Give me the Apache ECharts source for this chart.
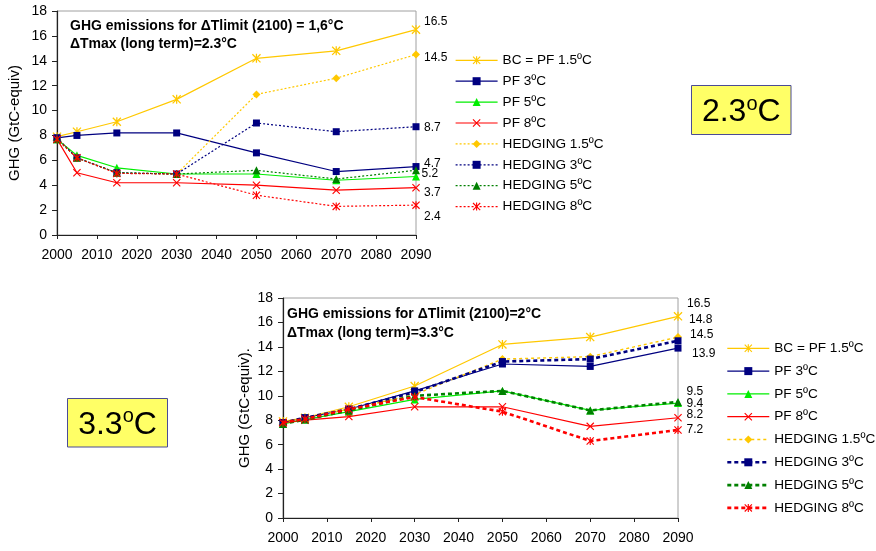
<!DOCTYPE html>
<html>
<head>
<meta charset="utf-8">
<script src="https://cdn.jsdelivr.net/npm/echarts@6/dist/echarts.min.js"></script>
<style>html,body{margin:0;padding:0;background:#fff;}#c{width:876px;height:551px;}</style>
</head>
<body>
<div id="c"></div>
<script>
// ---- data ----
const years = [2000, 2005, 2015, 2030, 2050, 2070, 2090];
const seriesNames = ['BC = PF 1.5ºC', 'PF 3ºC', 'PF 5ºC', 'PF 8ºC', 'HEDGING 1.5ºC', 'HEDGING 3ºC', 'HEDGING 5ºC', 'HEDGING 8ºC'];
// top panel (ΔTmax 2.3°C)
const topBC  = [7.9, 8.3, 9.1, 10.9, 14.2, 14.8, 16.5];
const topPF3 = [7.8, 8.0, 8.2, 8.2, 6.6, 5.1, 5.5];
const topPF5 = [7.7, 6.4, 5.4, 4.9, 4.9, 4.4, 4.7];
const topPF8 = [7.7, 5.0, 4.2, 4.2, 4.0, 3.6, 3.8];
const topH15 = [7.8, 6.2, 5.0, 4.9, 11.3, 12.6, 14.5];
const topH3  = [7.8, 6.2, 5.0, 4.9, 9.0, 8.3, 8.7];
const topH5  = [7.7, 6.2, 5.0, 4.9, 5.2, 4.5, 5.2];
const topH8  = [7.7, 6.2, 4.95, 4.9, 3.2, 2.3, 2.4];
// bottom panel (ΔTmax 3.3°C)
const botBC  = [7.9, 8.2, 9.1, 10.8, 14.2, 14.8, 16.5];
const botPF3 = [7.8, 8.2, 8.9, 10.4, 12.6, 12.4, 13.9];
const botPF5 = [7.7, 8.05, 8.7, 9.7, 10.4, 8.8, 9.4];
const botPF8 = [7.8, 8.0, 8.3, 9.1, 9.1, 7.5, 8.2];
const botH15 = [7.8, 8.2, 8.9, 10.1, 13.0, 13.2, 14.8];
const botH3  = [7.8, 8.2, 8.9, 10.3, 12.8, 13.0, 14.5];
const botH5  = [7.7, 8.05, 8.8, 10.0, 10.4, 8.8, 9.5];
const botH8  = [7.8, 8.1, 8.9, 9.9, 8.7, 6.3, 7.2];
// end-value labels
const topEndLabels = ['16.5', '14.5', '8.7', '4.7', '5.2', '3.7', '2.4'];
const botEndLabels = ['16.5', '14.8', '14.5', '13.9', '9.5', '9.4', '8.2', '7.2'];
const yTicks = [0, 18, 2];
const xTicks = [2000, 2090, 10];

// ---- styles ----
const FONT = 'Liberation Sans, Arial, sans-serif';
const XPATH = 'path://M0,1L1,0L10,9L9,10Z M9,0L10,1L1,10L0,9Z';
const STARPATH = 'path://M0,1L1,0L10,9L9,10Z M9,0L10,1L1,10L0,9Z M4.3,0L5.7,0L5.7,10L4.3,10Z';
const seriesStyle = [
  {color: '#FFC800', symbol: STARPATH, size: 9},
  {color: '#000080', symbol: 'rect', size: 7},
  {color: '#00EE00', symbol: 'triangle', size: 8},
  {color: '#FF0000', symbol: XPATH, size: 8},
  {color: '#FFC800', symbol: 'diamond', size: 8},
  {color: '#000080', symbol: 'rect', size: 7},
  {color: '#008000', symbol: 'triangle', size: 8},
  {color: '#FF0000', symbol: STARPATH, size: 8}
];
const topData = [topBC, topPF3, topPF5, topPF8, topH15, topH3, topH5, topH8];
const botData = [botBC, botPF3, botPF5, botPF8, botH15, botH3, botH5, botH8];

function lineStyleFor(i, panel) {
  if (i < 4) return {width: 1.2, type: 'solid', color: seriesStyle[i].color};
  if (panel === 0) return {width: 1.2, type: [2, 2], color: seriesStyle[i].color};
  if (i === 4) return {width: 1.4, type: [3, 3], color: seriesStyle[i].color};
  return {width: 2.6, type: [4, 3], color: seriesStyle[i].color};
}

const series = [];
[topData, botData].forEach((set, p) => {
  set.forEach((vals, i) => {
    series.push({
      type: 'line',
      name: seriesNames[i],
      xAxisIndex: p, yAxisIndex: p,
      data: years.map((y, k) => [y, vals[k]]),
      symbol: seriesStyle[i].symbol,
      symbolSize: seriesStyle[i].size,
      showAllSymbol: true,
      lineStyle: lineStyleFor(i, p),
      itemStyle: {color: seriesStyle[i].color},
      emphasis: {disabled: true},
      z: 2 + i,
      animation: false
    });
  });
});

function xAxis(gi) {
  return {
    type: 'value', gridIndex: gi, min: xTicks[0], max: xTicks[1], interval: xTicks[2],
    axisLine: {show: true, onZero: false, lineStyle: {color: '#222', width: 1.2}},
    axisTick: {show: true, inside: false, length: 4, lineStyle: {color: '#222'}},
    axisLabel: {color: '#000', fontSize: 14, fontFamily: FONT, margin: 13, formatter: v => String(v)},
    splitLine: {show: false}
  };
}
function yAxis(gi, name, gap) {
  return {
    type: 'value', gridIndex: gi, min: yTicks[0], max: yTicks[1], interval: yTicks[2],
    name: name, nameLocation: 'middle', nameGap: gap, nameRotate: 90,
    nameTextStyle: {color: '#000', fontSize: 15, fontFamily: FONT},
    axisLine: {show: true, onZero: false, lineStyle: {color: '#222', width: 1.2}},
    axisTick: {show: true, inside: false, length: 5, lineStyle: {color: '#222'}},
    axisLabel: {color: '#000', fontSize: 14, fontFamily: FONT, margin: 10},
    splitLine: {show: false}
  };
}

function legendData(panel) {
  return seriesNames.map((n, i) => {
    const ls = lineStyleFor(i, panel);
    return {name: n, lineStyle: {width: ls.width, type: ls.type, color: ls.color}};
  });
}

const textStyleBase = {fontFamily: FONT, fill: '#000'};
function labelTexts(list, xs, ys) {
  return list.map((t, i) => ({
    type: 'text', silent: true,
    style: Object.assign({text: t, x: xs[i], y: ys[i], font: '14px ' + FONT, textVerticalAlign: 'middle', verticalAlign: 'middle'}, textStyleBase)
  }));
}
const topLabelX = [424, 424, 424, 424, 421.5, 424, 424];
const topLabelY = [21.7, 57.3, 127.3, 163.3, 173.3, 192.7, 216.7];
const botLabelX = [687, 689, 690, 692, 686.5, 686.5, 686.5, 686.5];
const botLabelY = [303.3, 320, 335, 354, 391.7, 403.3, 415, 429.3];

function tempBox(x, y, w, h, val) {
  return {
    type: 'group', silent: true,
    children: [
      {type: 'rect', shape: {x: x, y: y, width: w, height: h}, style: {fill: '#FFFF66', stroke: '#4B4B96', lineWidth: 1}},
      {type: 'text', style: {
        text: '{a|' + val + '}{b|o}{a|C}', x: x + w / 2, y: y + h / 2 + 1,
        textAlign: 'center', align: 'center', textVerticalAlign: 'middle', verticalAlign: 'middle',
        rich: {
          a: {fontSize: 32, fontFamily: FONT, color: '#000', lineHeight: 34, verticalAlign: 'bottom'},
          b: {fontSize: 20, fontFamily: FONT, color: '#000', lineHeight: 34, verticalAlign: 'top', padding: [0, 0, 10, 0]}
        }
      }}
    ]
  };
}

const note = (x, y, t) => ({type: 'text', silent: true, style: {text: t, x: x, y: y, font: 'bold 14px ' + FONT, fill: '#000', textVerticalAlign: 'middle', verticalAlign: 'middle'}});

const option = {
  animation: false,
  backgroundColor: '#fff',
  grid: [
    {left: 57, top: 11, width: 359, height: 224, show: true, borderColor: '#A0A0A0', borderWidth: 1, backgroundColor: 'transparent'},
    {left: 283, top: 298, width: 395, height: 220, show: true, borderColor: '#A0A0A0', borderWidth: 1, backgroundColor: 'transparent'}
  ],
  xAxis: [xAxis(0), xAxis(1)],
  yAxis: [yAxis(0, 'GHG (GtC-equiv)', 35), yAxis(1, 'GHG (GtC-equiv).', 31)],
  legend: [
    {data: legendData(0), orient: 'vertical', left: 455, top: 53.3, padding: 0, itemWidth: 42, itemHeight: 10, itemGap: 6.9,
     textStyle: {fontSize: 13.6, fontFamily: FONT, color: '#000', lineHeight: 14}, selectedMode: false},
    {data: legendData(1), orient: 'vertical', left: 726, top: 341.3, padding: 0, itemWidth: 42, itemHeight: 10, itemGap: 8.8,
     textStyle: {fontSize: 13.6, fontFamily: FONT, color: '#000', lineHeight: 14}, selectedMode: false}
  ],
  graphic: [
    note(70, 26, 'GHG emissions for ΔTlimit (2100) = 1,6°C'),
    note(70, 44.3, 'ΔTmax (long term)=2.3°C'),
    note(287, 314.3, 'GHG emissions for ΔTlimit (2100)=2°C'),
    note(287, 333.3, 'ΔTmax (long term)=3.3°C'),
    tempBox(691.5, 85.5, 99.5, 49, '2.3'),
    tempBox(67.5, 398.5, 100, 48.5, '3.3')
  ].concat(labelTexts(topEndLabels, topLabelX, topLabelY), labelTexts(botEndLabels, botLabelX, botLabelY)),
  series: series
};
const chart = echarts.init(document.getElementById('c'), null, {renderer: 'canvas'});
chart.setOption(option);
</script>
</body>
</html>
